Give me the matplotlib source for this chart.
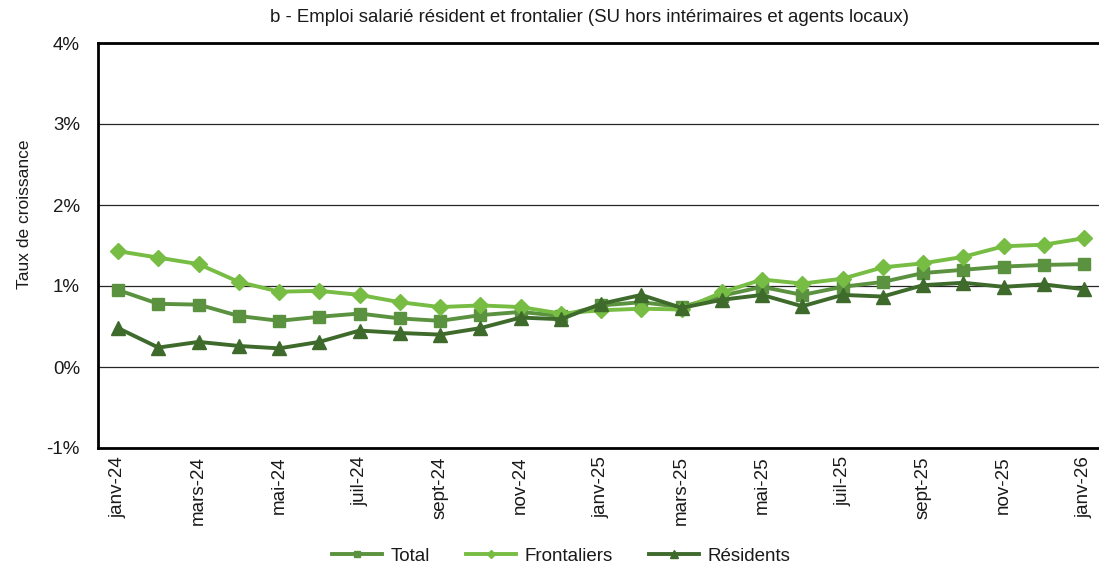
import matplotlib
matplotlib.use("Agg")
import matplotlib.pyplot as plt
from matplotlib.ticker import FuncFormatter

plt.rcParams['font.family'] = ['Liberation Sans', 'DejaVu Sans']

months = ["janv-24", "févr-24", "mars-24", "avr-24", "mai-24", "juin-24", "juil-24", "août-24",
          "sept-24", "oct-24", "nov-24", "déc-24", "janv-25", "févr-25", "mars-25", "avr-25",
          "mai-25", "juin-25", "juil-25", "août-25", "sept-25", "oct-25", "nov-25", "déc-25", "janv-26"]

total = [0.95, 0.78, 0.77, 0.63, 0.57, 0.62, 0.66, 0.60, 0.57, 0.64, 0.68, 0.63, 0.76, 0.80, 0.74,
         0.88, 0.99, 0.89, 0.99, 1.05, 1.16, 1.20, 1.24, 1.26, 1.27]
frontaliers = [1.43, 1.35, 1.27, 1.05, 0.93, 0.94, 0.89, 0.80, 0.74, 0.76, 0.74, 0.66, 0.70, 0.72, 0.71,
               0.92, 1.08, 1.03, 1.09, 1.23, 1.28, 1.36, 1.49, 1.51, 1.59]
residents = [0.48, 0.24, 0.31, 0.26, 0.23, 0.31, 0.45, 0.42, 0.40, 0.48, 0.61, 0.59, 0.78, 0.89, 0.73,
             0.83, 0.89, 0.75, 0.89, 0.87, 1.01, 1.04, 0.99, 1.02, 0.96]

series = [("Total", total, '#5B9240', 's', 9),
          ("Frontaliers", frontaliers, '#77BC43', 'D', 8),
          ("Résidents", residents, '#3E6A2C', '^', 9.5)]

fig = plt.figure(figsize=(10.99, 5.67), dpi=100)
W, H = 1099, 567
ax = fig.add_axes([98 / W, 1 - 448 / H, (1099 - 98) / W, (448 - 43) / H])

x = list(range(len(months)))
for name, vals, col, mk, ms in series:
    ax.plot(x, vals, color=col, lw=2.8, marker=mk, markersize=ms, label=name, zorder=3)

ax.set_ylim(-1, 4)
ax.set_yticks([-1, 0, 1, 2, 3, 4])
ax.yaxis.set_major_formatter(FuncFormatter(lambda v, p: f"{v:.0f}%"))
ax.set_xlim(-0.5, 24 + (1099 - 1084) / 40.25)
ax.set_xticks(x[::2])
ax.set_xticklabels(months[::2], rotation=90)
ax.grid(axis='y', color='#262626', lw=0.9, zorder=1)
ax.grid(axis='x', visible=False)
for s in ['left', 'bottom', 'top']:
    ax.spines[s].set_linewidth(2.0)
    ax.spines[s].set_color('black')
ax.spines['right'].set_visible(False)
ax.tick_params(axis='x', length=0, labelsize=13.5, colors='#1a1a1a', pad=6)
ax.tick_params(axis='y', length=0, labelsize=13.5, colors='#1a1a1a', pad=13)
ax.set_ylabel("Taux de croissance", fontsize=12.5, color='#1a1a1a')
ax.yaxis.set_label_coords(-0.066, 0.578)
fig.text(590 / W, 1 - 18 / H, "b - Emploi salarié résident et frontalier (SU hors intérimaires et agents locaux)",
         ha='center', va='center', fontsize=13.4, color='#1a1a1a')

handles, labels = ax.get_legend_handles_labels()
leg = fig.legend(handles, labels, loc='center', bbox_to_anchor=(561 / W, 1 - 556 / H), ncol=3,
                 frameon=False, fontsize=13.5, markerscale=0.55, handlelength=2.7, columnspacing=1.9,
                 handletextpad=0.45)
for t in leg.get_texts():
    t.set_color('#1a1a1a')

fig.savefig("out.png", dpi=100)
